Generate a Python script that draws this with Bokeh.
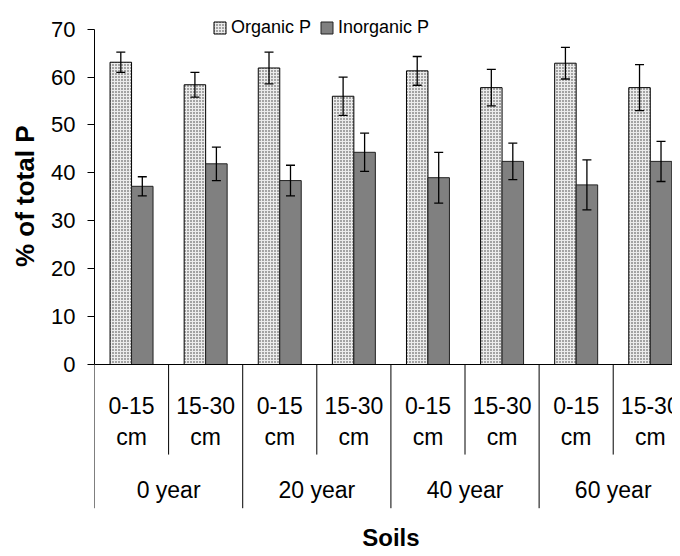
from bokeh.plotting import figure
from bokeh.models import (ColumnDataSource, Range1d, FixedTicker, Whisker, TeeHead,
                          Label, Span, Legend, LegendItem, Title)
from bokeh.core.properties import value
from bokeh.embed import file_html
from bokeh.resources import INLINE

# ---- data ----
depths = ["0-15", "15-30", "0-15", "15-30", "0-15", "15-30", "0-15", "15-30"]
years = ["0 year", "20 year", "40 year", "60 year"]
organic = [63.1, 58.4, 61.9, 56.0, 61.3, 57.8, 62.9, 57.8]
organic_err = [2.1, 2.6, 3.3, 4.0, 3.0, 3.8, 3.3, 4.8]
inorganic = [37.2, 41.9, 38.4, 44.3, 39.0, 42.4, 37.5, 42.4]
inorganic_err = [2.0, 3.5, 3.2, 4.0, 5.3, 3.8, 5.2, 4.2]
y_ticks = [0, 10, 20, 30, 40, 50, 60, 70]

FONT = "Liberation Sans"
BW = 0.29  # bar width (category units)

n = len(depths)
centers = [i + 0.5 for i in range(n)]
x_org = [c - BW / 2 for c in centers]
x_ino = [c + BW / 2 for c in centers]

src_org = ColumnDataSource(dict(x=x_org, top=organic,
                                upper=[v + e for v, e in zip(organic, organic_err)],
                                lower=[v - e for v, e in zip(organic, organic_err)]))
src_ino = ColumnDataSource(dict(x=x_ino, top=inorganic,
                                upper=[v + e for v, e in zip(inorganic, inorganic_err)],
                                lower=[v - e for v, e in zip(inorganic, inorganic_err)]))

p = figure(width=672, height=548, output_backend="svg", toolbar_location=None,
           x_range=Range1d(0, 7.8), y_range=Range1d(-38.41, 75.99),
           min_border=0, min_border_left=94, min_border_right=0,
           min_border_top=0, min_border_bottom=0)
p.outline_line_color = None
p.xgrid.visible = False
p.ygrid.visible = False
p.xaxis.visible = False
p.background_fill_color = "white"
p.border_fill_color = "white"

ya = p.yaxis[0]
ya.bounds = (0, 70)
ya.ticker = FixedTicker(ticks=y_ticks)
ya.minor_tick_line_color = None
ya.major_tick_in = 0
ya.major_tick_out = 7
ya.major_label_standoff = 12
ya.major_label_text_font = FONT
ya.major_label_text_font_size = "22px"
ya.major_label_text_color = "black"
ya.axis_line_color = "black"
ya.major_tick_line_color = "black"

# y axis title, placed against the 0-70 part of the axis
p.add_layout(Title(text="% of total P", align="right", offset=125, vertical_align="top",
                   standoff=14, text_font=FONT, text_font_style="bold",
                   text_font_size="26px", text_color="black"), "left")

r_org = p.vbar(x="x", top="top", bottom=0, width=BW, source=src_org,
               fill_color="#ececec", line_color="black", line_width=1,
               hatch_pattern="dot", hatch_color="#333333", hatch_scale=3, hatch_weight=1)
r_ino = p.vbar(x="x", top="top", bottom=0, width=BW, source=src_ino,
               fill_color="#808080", line_color="#222222", line_width=1)

for src in (src_org, src_ino):
    w = Whisker(source=src, base="x", upper="upper", lower="lower",
                line_color="black", line_width=1.3, level="overlay",
                upper_head=TeeHead(size=9, line_color="black", line_width=1.3),
                lower_head=TeeHead(size=9, line_color="black", line_width=1.3))
    p.add_layout(w)

# x axis line at zero
p.add_layout(Span(location=0, dimension="width", line_color="black", line_width=1))

# category table dividers
inner_x = [i for i in range(1, n) if i % 2 == 1]
outer_x = [i for i in range(0, n) if i % 2 == 0]
p.segment(x0=inner_x, y0=[0] * len(inner_x), x1=inner_x, y1=[-18.8] * len(inner_x),
          line_color="black", line_width=1)
p.segment(x0=outer_x, y0=[0] * len(outer_x), x1=outer_x, y1=[-30] * len(outer_x),
          line_color="black", line_width=1)

# category labels
p.text(x=centers, y=[-8.5] * n, text=depths, text_align="center", text_baseline="alphabetic",
       text_font=value(FONT), text_font_size="23px", text_color="black")
p.text(x=centers, y=[-15.2] * n, text=["cm"] * n, text_align="center", text_baseline="alphabetic",
       text_font=value(FONT), text_font_size="23px", text_color="black")
year_x = [2 * j + 1 for j in range(len(years))]
p.text(x=year_x, y=[-26.2] * len(years), text=years, text_align="center", text_baseline="alphabetic",
       text_font=value(FONT), text_font_size="23px", text_color="black")

# x axis title
p.add_layout(Label(x=4, y=-36.1, text="Soils",
                   text_align="center", text_baseline="alphabetic",
                   text_font=FONT, text_font_style="bold", text_font_size="24px",
                   text_color="black"))

legend = Legend(items=[LegendItem(label="Organic P", renderers=[r_org]),
                       LegendItem(label="Inorganic P", renderers=[r_ino])],
                location=(118, 510), orientation="horizontal",
                glyph_width=15, glyph_height=15, label_standoff=4, spacing=8,
                padding=0, margin=0, border_line_color=None, background_fill_alpha=0,
                label_text_font=FONT, label_text_font_size="18px", label_text_color="black")
p.add_layout(legend, "center")

open("out.html", "w").write(file_html(p, INLINE))
